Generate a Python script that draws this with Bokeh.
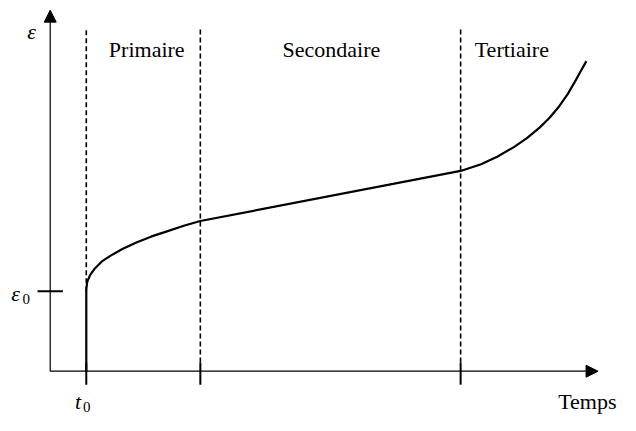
from bokeh.plotting import figure
from bokeh.models import Range1d, Arrow, NormalHead
from bokeh.core.properties import value
from bokeh.embed import file_html
from bokeh.resources import INLINE

# ---- data (schematic units: time on x, strain on y) ----
t_phase = [37, 154, 421]          # t0, end of primary, end of secondary
eps0 = 83                          # instantaneous strain
t_max = 562                        # end of time axis
eps_max = 375                      # end of strain axis
dash_top = [357, 355, 355]         # top of the phase separators
curve_t = [37, 37, 38, 41, 46, 53, 62, 74, 89, 104, 119, 137, 154,
           421, 442, 459, 476, 489, 502, 512, 522, 531, 539, 545, 550]
curve_eps = [0, 85, 93, 100, 107, 114, 120, 127, 134, 140, 145, 151, 156,
             208, 215, 223, 233, 242, 253, 263, 275, 288, 302, 313, 322]
phase_names = ["Primaire", "Secondaire", "Tertiaire"]
phase_label_t = [99, 288.5, 473.5]
x_label = "Temps"
y_label = "\u03b5"

FONT = value("Liberation Serif")

p = figure(width=620, height=415, x_range=Range1d(-51, 585), y_range=Range1d(-46, 385),
           output_backend="svg", toolbar_location=None, min_border=0,
           x_axis_location=None, y_axis_location=None)
p.grid.visible = False
p.outline_line_color = None
p.background_fill_color = "white"
p.border_fill_color = "white"

# axes with arrows
p.add_layout(Arrow(x_start=0, y_start=0, x_end=t_max, y_end=0, line_width=1.2, line_color="black",
                   end=NormalHead(size=12, fill_color="black", line_color="black", line_width=1)))
p.add_layout(Arrow(x_start=0, y_start=0, x_end=0, y_end=eps_max, line_width=1.2, line_color="black",
                   end=NormalHead(size=12, fill_color="black", line_color="black", line_width=1)))

# phase separators (dashed)
dash_bottom = [eps0, 9, 9]
p.segment(x0=t_phase, y0=dash_bottom, x1=t_phase, y1=dash_top,
          line_color="black", line_width=1.6, line_dash="5 3")

# ticks on time axis
p.segment(x0=t_phase, y0=[-14] * 3, x1=t_phase, y1=[9] * 3, line_color="black", line_width=2)
# tick for eps0
p.segment(x0=[-13], y0=[eps0], x1=[13], y1=[eps0], line_color="black", line_width=2)

# creep curve
p.line(curve_t, curve_eps, line_color="black", line_width=2.2, line_join="round")

# phase labels
p.text(x=phase_label_t, y=[334] * 3, text=phase_names, text_font=FONT, text_font_size="22px",
       text_align="center", text_baseline="alphabetic", text_color="black")

# axis labels
p.text(x=[551], y=[-31.7], text=[x_label], text_font=FONT, text_font_size="22px",
       text_align="center", text_baseline="alphabetic", text_color="black")
p.text(x=[-19], y=[353], text=[y_label], text_font=FONT, text_font_size="22px",
       text_font_style="italic", text_align="center", text_baseline="alphabetic", text_color="black")

# eps0 label
p.text(x=[-35.5], y=[80.3], text=["\u03b5"], text_font=FONT, text_font_size="22px",
       text_font_style="italic", text_align="center", text_baseline="alphabetic", text_color="black")
p.text(x=[-24.5], y=[74.7], text=["0"], text_font=FONT, text_font_size="15px",
       text_align="center", text_baseline="alphabetic", text_color="black")

# t0 label
p.text(x=[28.5], y=[-31.7], text=["t"], text_font=FONT, text_font_size="22px",
       text_font_style="italic", text_align="center", text_baseline="alphabetic", text_color="black")
p.text(x=[37.5], y=[-37.3], text=["0"], text_font=FONT, text_font_size="15px",
       text_align="center", text_baseline="alphabetic", text_color="black")

open("out.html", "w").write(file_html(p, INLINE))
